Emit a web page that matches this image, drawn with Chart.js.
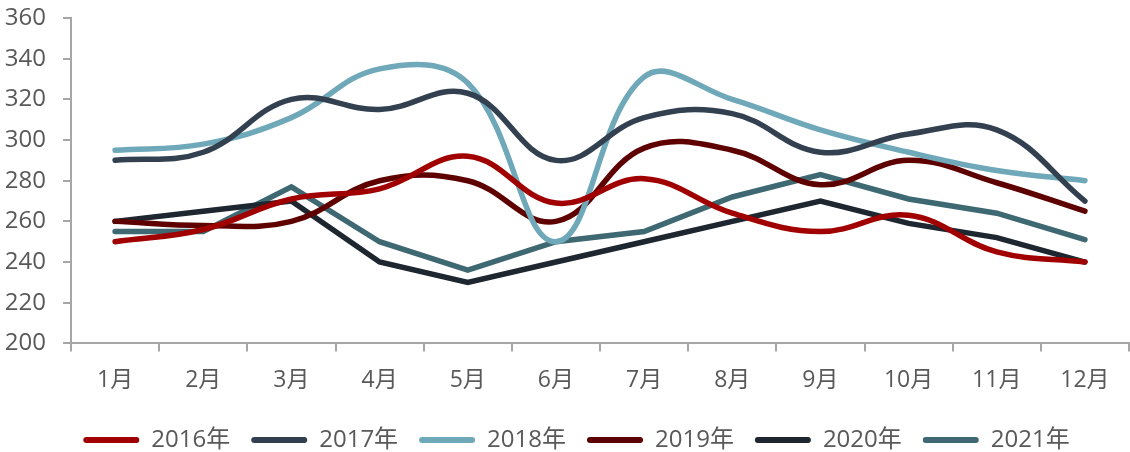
<!DOCTYPE html>
<html>
<head>
<meta charset="utf-8">
<script src="https://cdn.jsdelivr.net/npm/chart.js@4.4.0/dist/chart.umd.min.js"></script>
<style>
  html, body { margin: 0; padding: 0; background: #fff; }
  #wrap { width: 1130px; height: 452px; }
</style>
</head>
<body>
<div id="wrap"><canvas id="myChart"></canvas></div>
<script>
const months = ["1月", "2月", "3月", "4月", "5月", "6月", "7月", "8月", "9月", "10月", "11月", "12月"];
const s2016 = [250, 256, 271, 276, 292, 269, 281, 264, 255, 263, 245, 240];
const s2017 = [290, 294, 320, 315, 323, 290, 311, 313, 294, 303, 305, 270];
const s2018 = [295, 298, 311, 335, 328, 250, 331, 320, 305, 294, 285, 280];
const s2019 = [260, 258, 260, 280, 280, 260, 296, 295, 278, 290, 279, 265];
const s2020 = [260, 265, 270, 240, 230, 240, 250, 260, 270, 259, 252, 240];
const s2021 = [255, 255, 277, 250, 236, 250, 255, 272, 283, 271, 264, 251];

const fontFamily = "'Open Sans', 'Noto Sans CJK SC', sans-serif";
const axisColor = "#A6A6A6";

function line(label, data, color, tension) {
  return {
    label: label,
    data: data,
    borderColor: color,
    backgroundColor: color,
    borderWidth: 5.5,
    pointRadius: 0,
    borderCapStyle: "round",
    tension: tension,
    fill: false
  };
}

// legend sits a little right of centre in the original
const shiftLegend = {
  id: "shiftLegend",
  afterLayout(chart) {
    chart.legend.left += 12;
    chart.legend.right += 12;
  }
};

window.onload = function () {
  const ctx = document.getElementById("myChart");
  new Chart(ctx, {
    type: "line",
    data: {
      labels: months,
      datasets: [
        line("2016年", s2016, "#A00000", 0.4),
        line("2017年", s2017, "#334050", 0.4),
        line("2018年", s2018, "#6FA8B8", 0.4),
        line("2019年", s2019, "#5E0000", 0.4),
        line("2020年", s2020, "#1E2630", 0),
        line("2021年", s2021, "#3E6872", 0)
      ]
    },
    plugins: [shiftLegend],
    options: {
      responsive: true,
      maintainAspectRatio: false,
      animation: false,
      layout: { padding: { top: 18, right: 1, left: 0, bottom: -10 } },
      plugins: {
        tooltip: { enabled: false },
        legend: {
          position: "bottom",
          labels: {
            boxWidth: 56,
            boxHeight: 6,
            useBorderRadius: true,
            borderRadius: 3,
            padding: 21,
            color: "#595959",
            font: { family: fontFamily, size: 24 },
            generateLabels: function (chart) {
              const items = Chart.defaults.plugins.legend.labels.generateLabels(chart);
              items.forEach(it => { it.lineWidth = 0; });
              return items;
            }
          }
        }
      },
      scales: {
        x: {
          offset: true,
          afterFit: function (scale) { scale.height -= 2; },
          grid: {
            offset: true,
            drawOnChartArea: false,
            drawTicks: true,
            tickLength: 8,
            color: axisColor,
            lineWidth: 2
          },
          border: { color: axisColor, width: 2 },
          ticks: {
            color: "#595959",
            padding: 15,
            maxRotation: 0,
            font: { family: fontFamily, size: 23 }
          }
        },
        y: {
          min: 200,
          max: 360,
          afterFit: function (scale) {
            scale.width = 71;
            scale.paddingTop = 0;
            scale.paddingBottom = 0;
          },
          grid: {
            drawOnChartArea: false,
            drawTicks: true,
            tickLength: 8,
            color: axisColor,
            lineWidth: 2
          },
          border: { color: axisColor, width: 2 },
          ticks: {
            stepSize: 20,
            color: "#595959",
            padding: 17,
            font: { family: fontFamily, size: 24 }
          }
        }
      }
    }
  });
};
</script>
</body>
</html>
